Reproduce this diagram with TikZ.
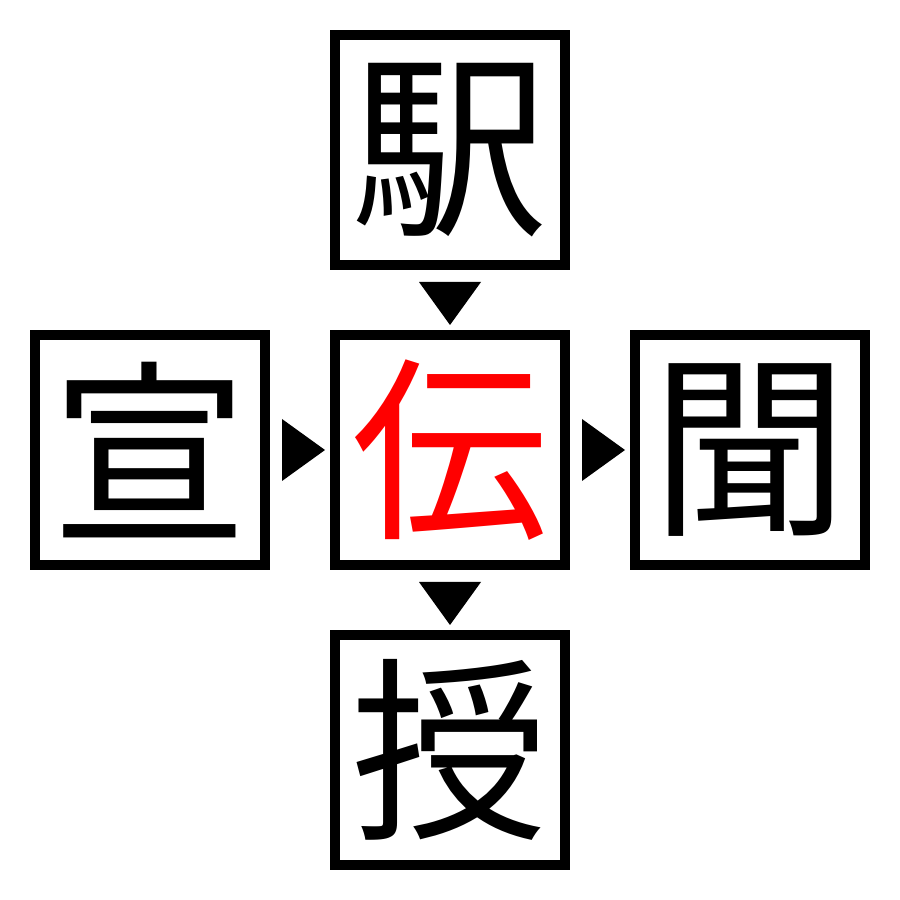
\documentclass[tikz,border=0pt]{standalone}
\usepackage{fontspec}
\newfontfamily\jp{Noto Sans CJK JP}
\usepackage{tikz}
\tikzset{main/.style = {draw, line width=1mm, minimum size=23mm, inner sep=0pt, font=\jp\fontsize{56pt}{56pt}\selectfont}}
\tikzset{tri/.style = {fill=black}}

\begin{document}
\begin{tikzpicture}[node distance={30mm}]
\useasboundingbox (0,0) rectangle (9,9);
\node[main, text=red] (c) at (4.5,4.5) {伝};
\node[main] (t) [above of=c] {駅};
\node[main] (l) [left of=c] {宣};
\node[main] (r) [right of=c] {聞};
\node[main] (b) [below of=c] {授};
% arrow heads between the boxes
\fill[tri] ([xshift=-4.8mm, yshift=3.1mm]c.west) -- ([xshift=-0.5mm]c.west) -- ([xshift=-4.8mm, yshift=-3.1mm]c.west) -- cycle;
\fill[tri] ([xshift=-4.8mm, yshift=3.1mm]r.west) -- ([xshift=-0.5mm]r.west) -- ([xshift=-4.8mm, yshift=-3.1mm]r.west) -- cycle;
\fill[tri] ([yshift=4.8mm, xshift=-3.1mm]c.north) -- ([yshift=0.5mm]c.north) -- ([yshift=4.8mm, xshift=3.1mm]c.north) -- cycle;
\fill[tri] ([yshift=4.8mm, xshift=-3.1mm]b.north) -- ([yshift=0.5mm]b.north) -- ([yshift=4.8mm, xshift=3.1mm]b.north) -- cycle;
\end{tikzpicture}
\end{document}
